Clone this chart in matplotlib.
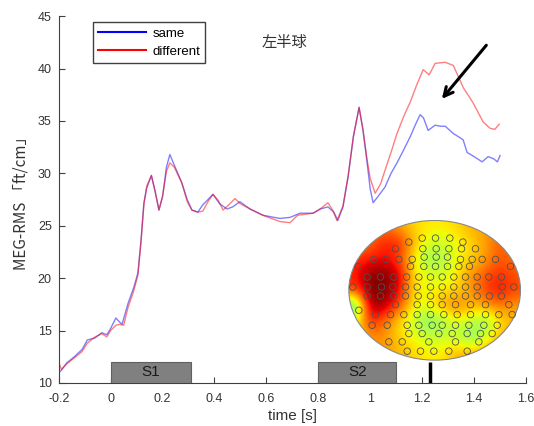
import matplotlib
matplotlib.use('Agg')
import matplotlib.pyplot as plt
from matplotlib.patches import Rectangle, Ellipse
import numpy as np

# === DATA ===
t_same = [-0.2, -0.19, -0.17, -0.14, -0.11, -0.09, -0.06, -0.034, -0.015, 0.0, 0.02, 0.035,
          0.044, 0.067, 0.089, 0.105, 0.117, 0.128, 0.139, 0.157, 0.172, 0.186, 0.2, 0.215,
          0.228, 0.245, 0.274, 0.295, 0.313, 0.336, 0.355, 0.375, 0.394, 0.42, 0.448, 0.47,
          0.498, 0.52, 0.537, 0.587, 0.652, 0.691, 0.729, 0.78, 0.807, 0.837, 0.86, 0.875,
          0.895, 0.915, 0.935, 0.957, 0.972, 0.988, 1.0, 1.011, 1.03, 1.057, 1.08, 1.103,
          1.13, 1.154, 1.175, 1.192, 1.205, 1.223, 1.25, 1.27, 1.289, 1.32, 1.34, 1.358,
          1.373, 1.40, 1.431, 1.454, 1.475, 1.49, 1.5]
same = [11.0, 11.2, 11.9, 12.5, 13.2, 14.1, 14.3, 14.8, 14.6, 15.2, 16.2, 15.8,
        15.6, 17.6, 19.1, 20.5, 23.6, 27.2, 28.6, 29.8, 28.2, 26.5, 27.8, 30.6,
        31.8, 30.8, 29.1, 27.5, 26.5, 26.3, 27.0, 27.5, 28.0, 27.1, 26.6, 26.8,
        27.3, 26.9, 26.6, 26.0, 25.7, 25.8, 26.2, 26.2, 26.6, 26.8, 26.3, 25.5,
        26.8, 29.7, 33.5, 36.3, 34.1, 31.0, 28.5, 27.2, 27.8, 28.7, 30.0, 31.0,
        32.3, 33.5, 34.7, 35.6, 35.3, 34.1, 34.6, 34.5, 34.5, 33.8, 33.5, 33.2,
        32.0, 31.6, 31.1, 31.6, 31.4, 31.1, 31.7]

t_diff = [-0.2, -0.19, -0.17, -0.14, -0.11, -0.09, -0.06, -0.034, -0.015, 0.0, 0.02, 0.035,
          0.05, 0.067, 0.089, 0.105, 0.117, 0.128, 0.139, 0.157, 0.172, 0.186, 0.2, 0.215,
          0.228, 0.245, 0.274, 0.295, 0.313, 0.336, 0.355, 0.375, 0.394, 0.415, 0.433, 0.455,
          0.479, 0.50, 0.537, 0.587, 0.652, 0.691, 0.72, 0.78, 0.807, 0.837, 0.855, 0.872,
          0.895, 0.915, 0.935, 0.957, 0.972, 0.988, 1.0, 1.019, 1.04, 1.057, 1.08, 1.103,
          1.13, 1.154, 1.18, 1.204, 1.227, 1.25, 1.289, 1.32, 1.34, 1.358, 1.397, 1.435,
          1.462, 1.48, 1.497]
diff = [12.0, 11.3, 11.8, 12.4, 13.0, 13.8, 14.4, 14.7, 14.4, 15.0, 15.5, 15.6,
        15.5, 17.2, 18.8, 20.3, 23.5, 27.0, 28.8, 29.8, 28.2, 26.5, 27.8, 30.2,
        31.0, 30.6, 29.1, 27.3, 26.5, 26.3, 26.4, 27.3, 28.0, 27.4, 26.5, 27.0,
        27.6, 27.1, 26.6, 26.0, 25.4, 25.3, 26.0, 26.2, 26.6, 27.2, 26.5, 25.5,
        26.9, 29.8, 33.5, 36.3, 34.2, 31.3, 29.5, 28.1, 29.0, 30.3, 32.0, 33.8,
        35.5, 36.8, 38.5, 39.9, 39.4, 40.5, 40.6, 40.3, 39.2, 38.2, 36.7, 34.9,
        34.3, 34.2, 34.7]

stim_labels = ['S1', 'S2']
stim_start = [0.0, 0.8]
stim_end = [0.31, 1.1]
marker_time = 1.23

# topomap colour level (jet scale 0..1), rows top -> bottom
topo_grid = [
    [0.76, 0.78, 0.79, 0.74, 0.68, 0.66, 0.66, 0.68, 0.72, 0.74, 0.76, 0.78],
    [0.76, 0.80, 0.88, 0.88, 0.72, 0.62, 0.59, 0.64, 0.68, 0.74, 0.82, 0.80],
    [0.86, 0.88, 0.90, 0.84, 0.66, 0.52, 0.56, 0.64, 0.68, 0.74, 0.82, 0.79],
    [0.88, 1.00, 1.00, 0.94, 0.66, 0.64, 0.59, 0.66, 0.76, 0.82, 0.87, 0.82],
    [0.84, 1.00, 1.00, 0.92, 0.66, 0.64, 0.66, 0.68, 0.74, 0.84, 0.90, 0.84],
    [0.42, 1.00, 0.96, 0.82, 0.66, 0.64, 0.74, 0.79, 0.72, 0.74, 0.79, 0.74],
    [0.62, 0.88, 0.78, 0.68, 0.59, 0.49, 0.54, 0.62, 0.59, 0.52, 0.66, 0.72],
    [0.68, 0.76, 0.76, 0.68, 0.64, 0.59, 0.59, 0.59, 0.49, 0.59, 0.72, 0.74],
    [0.72, 0.74, 0.74, 0.72, 0.68, 0.66, 0.66, 0.72, 0.72, 0.74, 0.76, 0.76],
]

# sensor rows: (row y, list of x) in topomap pixel frame
sensor_rows = [
    (68, [230, 270, 313]),
    (80, [190, 352]),
    (100, [150, 232, 272, 310, 348, 390]),
    (125, [236, 272, 306]),
    (132, [85, 122, 160, 200, 345, 380, 410, 450]),
    (153, [38, 195, 235, 270, 306, 340, 372, 495]),
    (185, [65, 105, 145, 183, 220, 255, 290, 325, 360, 395, 430, 468]),
    (215, [22, 65, 108, 142, 180, 215, 255, 290, 325, 360, 395, 470, 505]),
    (242, [65, 105, 145, 180, 218, 255, 290, 325, 360, 395, 432, 468]),
    (268, [150, 215, 255, 290, 330, 375, 420, 490]),
    (285, [40]),
    (298, [90, 135, 175, 215, 255, 295, 335, 375, 420, 460, 500]),
    (330, [80, 125, 185, 220, 260, 290, 330, 370, 415, 455]),
    (355, [190, 230, 280, 320, 365, 405, 440]),
    (380, [130, 170, 250, 330, 400]),
    (408, [185, 225, 265, 310, 365]),
]

# === CHART ===
plt.rcParams['font.family'] = ['Liberation Sans', 'DejaVu Sans']
fig = plt.figure(figsize=(5.34, 4.26), dpi=100)
ax = fig.add_axes([0.110, 0.101, 0.875, 0.861])
grey = '#404040'
cjk = ['Noto Sans CJK JP', 'DejaVu Sans']

ax.plot(t_same, same, color='#0000ff', alpha=0.5, linewidth=1.0, label='same')
ax.plot(t_diff, diff, color='#ff0000', alpha=0.5, linewidth=1.0, label='different')

for lab, s, e in zip(stim_labels, stim_start, stim_end):
    ax.add_patch(Rectangle((s, 10), e - s, 2, facecolor='#808080',
                           edgecolor='#606060', linewidth=0.8, zorder=3))
    ax.text((s + e) / 2, 11, lab, ha='center', va='center', fontsize=11,
            color='#1a1a1a', zorder=4)
ax.plot([marker_time, marker_time], [10, 12], color='black', linewidth=2.5,
        zorder=4, solid_capstyle='butt')

ax.annotate('', xy=(1.269, 36.9), xytext=(1.454, 42.43),
            arrowprops=dict(arrowstyle='->', color='black', lw=2.2,
                            mutation_scale=16))
ax.text(0.583, 42.5, '左半球', family=cjk, fontsize=11, color='#333333',
        va='center', ha='left')

ax.set_xlim(-0.2, 1.6)
ax.set_ylim(10, 45)
ax.set_xticks(np.arange(-0.2, 1.61, 0.2))
ax.set_xticklabels(['-0.2', '0', '0.2', '0.4', '0.6', '0.8', '1', '1.2', '1.4', '1.6'])
ax.set_yticks(range(10, 46, 5))
ax.tick_params(direction='in', length=4, colors=grey, labelsize=9, labelcolor='#333333')
ax.tick_params(axis='x', pad=7)
ax.tick_params(axis='y', pad=5)
for side in ['top', 'right']:
    ax.spines[side].set_visible(False)
for side in ['left', 'bottom']:
    ax.spines[side].set_color(grey)
ax.set_xlabel('time [s]', fontsize=11, color='#333333', labelpad=3)
ax.set_ylabel('MEG-RMS 「ft/cm」', family=cjk, fontsize=11, color='#333333', labelpad=6)

leg = ax.legend(loc='upper left', bbox_to_anchor=(0.073, 0.984), fontsize=9.5,
                handlelength=3.6, fancybox=False, framealpha=1, borderpad=0.4,
                labelspacing=0.45, handletextpad=0.5, borderaxespad=0)
leg.get_frame().set_edgecolor(grey)
for h in leg.get_lines():
    h.set_alpha(1.0)
    h.set_linewidth(1.5)

# topomap inset
tax = fig.add_axes([0.652, 0.153, 0.324, 0.331])
tax.set_xlim(8, 527)
tax.set_ylim(437, 13)
tax.axis('off')
ell = Ellipse((267.5, 225), 515, 420, facecolor='none', edgecolor='#888888', linewidth=0.8)
tax.add_patch(ell)
im = tax.imshow(np.array(topo_grid), cmap='jet', vmin=0, vmax=1,
                extent=(10, 525, 435, 15), interpolation='bicubic', aspect='auto')
im.set_clip_path(ell)
sx = [x for y, xs in sensor_rows for x in xs]
sy = [y for y, xs in sensor_rows for x in xs]
tax.scatter(sx, sy, s=22, facecolors='none', edgecolors='#505050', linewidths=0.6)

plt.savefig('out.png', dpi=100)
